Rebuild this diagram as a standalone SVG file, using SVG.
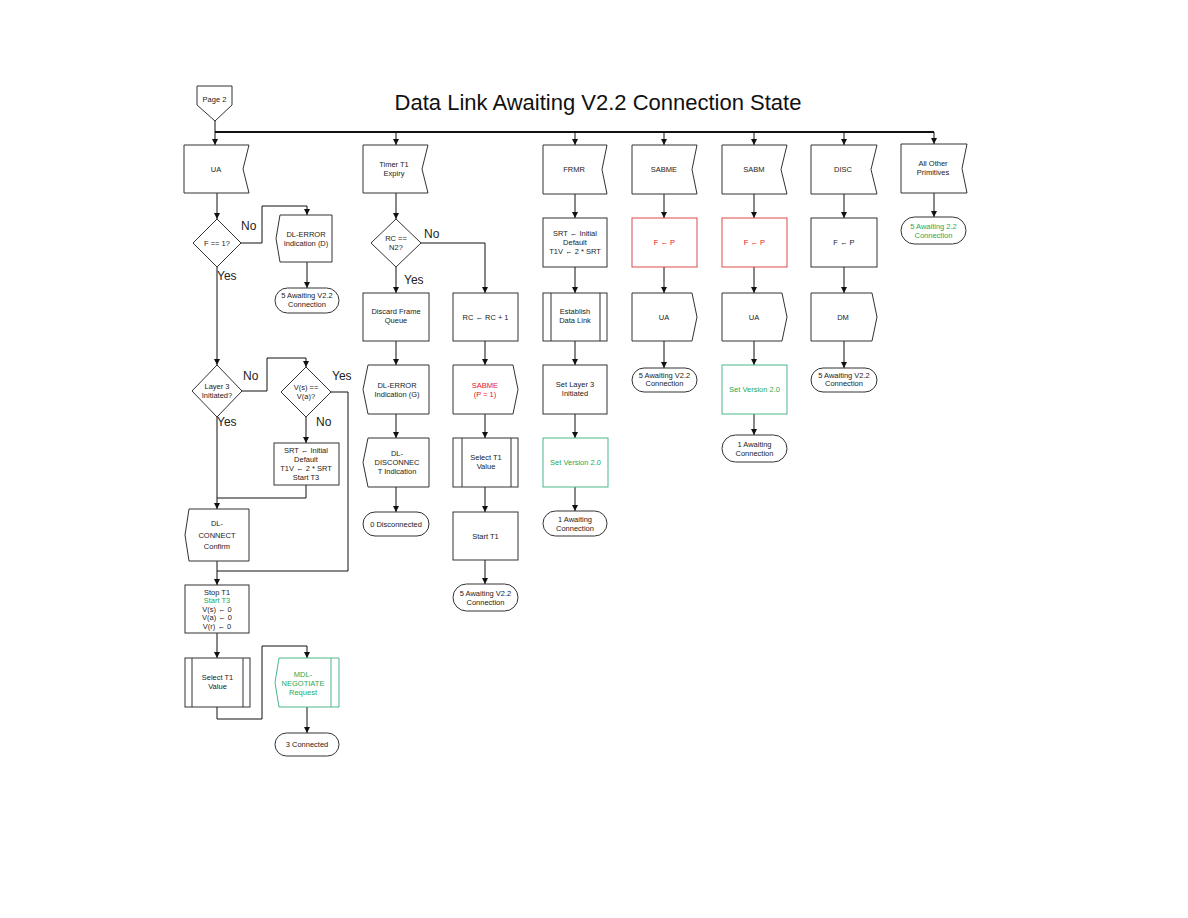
<svg xmlns="http://www.w3.org/2000/svg" width="1188" height="918" viewBox="0 0 1188 918">
<style>
.s{fill:#fff;stroke:#333;stroke-width:1}
.r{fill:#fff;stroke:#e04a4a;stroke-width:1}
.g{fill:#fff;stroke:#4cb886;stroke-width:1}
.c{fill:none;stroke:#111;stroke-width:1}
.bus{fill:none;stroke:#111;stroke-width:1.8}
text{font-family:"Liberation Sans",Arial,sans-serif}
.t{font-size:7.5px;text-anchor:middle;fill:#222}
.tr{font-size:7.5px;text-anchor:middle;fill:#e8141c}
.tg{font-size:7.5px;text-anchor:middle;fill:#1fa855}
.l{font-size:12px;fill:#222}
.title{font-size:22px;text-anchor:middle;fill:#111}
</style>
<defs>
<marker id="a" markerWidth="6" markerHeight="6" refX="6" refY="3" orient="auto" markerUnits="userSpaceOnUse">
<path d="M0,0 L6,3 L0,6 Z" fill="#111"/>
</marker>
</defs>
<rect width="1188" height="918" fill="#fff"/>
<text class="title" x="598" y="110">Data Link Awaiting V2.2 Connection State</text>

<g id="connectors">
<path class="bus" d="M215,132 H934"/>
<path class="c" d="M215,121 V145" marker-end="url(#a)"/>
<path class="c" d="M217,193 V219" marker-end="url(#a)"/>
<path class="c" d="M241,243 H262 V206 H307 V215" marker-end="url(#a)"/>
<path class="c" d="M307,262 V288" marker-end="url(#a)"/>
<path class="c" d="M217,267 V365" marker-end="url(#a)"/>
<path class="c" d="M242,391 H267 V358 H306 V367" marker-end="url(#a)"/>
<path class="c" d="M331,392 H348 V571 H217"/>
<path class="c" d="M306,417 V443" marker-end="url(#a)"/>
<path class="c" d="M306,485 V498 H217"/>
<path class="c" d="M217,417 V509" marker-end="url(#a)"/>
<path class="c" d="M217,561 V585" marker-end="url(#a)"/>
<path class="c" d="M217,633 V658" marker-end="url(#a)"/>
<path class="c" d="M217,707 V719 H262 V646 H307 V658" marker-end="url(#a)"/>
<path class="c" d="M307,707 V733" marker-end="url(#a)"/>

<path class="c" d="M396,132 V145" marker-end="url(#a)"/>
<path class="c" d="M396,193 V219" marker-end="url(#a)"/>
<path class="c" d="M421,243 H485 V293" marker-end="url(#a)"/>
<path class="c" d="M396,267 V293" marker-end="url(#a)"/>
<path class="c" d="M396,341 V365" marker-end="url(#a)"/>
<path class="c" d="M485,341 V365" marker-end="url(#a)"/>
<path class="c" d="M396,414 V438" marker-end="url(#a)"/>
<path class="c" d="M485,414 V438" marker-end="url(#a)"/>
<path class="c" d="M396,487 V512" marker-end="url(#a)"/>
<path class="c" d="M485,487 V512" marker-end="url(#a)"/>
<path class="c" d="M485,560 V584" marker-end="url(#a)"/>

<path class="c" d="M575,132 V145" marker-end="url(#a)"/>
<path class="c" d="M575,194 V218" marker-end="url(#a)"/>
<path class="c" d="M575,267 V293" marker-end="url(#a)"/>
<path class="c" d="M575,341 V365" marker-end="url(#a)"/>
<path class="c" d="M575,414 V438" marker-end="url(#a)"/>
<path class="c" d="M575,487 V511" marker-end="url(#a)"/>

<path class="c" d="M664,132 V145" marker-end="url(#a)"/>
<path class="c" d="M664,194 V218" marker-end="url(#a)"/>
<path class="c" d="M664,267 V293" marker-end="url(#a)"/>
<path class="c" d="M664,341 V368" marker-end="url(#a)"/>

<path class="c" d="M754,132 V145" marker-end="url(#a)"/>
<path class="c" d="M754,194 V218" marker-end="url(#a)"/>
<path class="c" d="M754,267 V293" marker-end="url(#a)"/>
<path class="c" d="M754,341 V365" marker-end="url(#a)"/>
<path class="c" d="M754,414 V435" marker-end="url(#a)"/>

<path class="c" d="M844,132 V145" marker-end="url(#a)"/>
<path class="c" d="M844,194 V218" marker-end="url(#a)"/>
<path class="c" d="M844,267 V293" marker-end="url(#a)"/>
<path class="c" d="M844,341 V368" marker-end="url(#a)"/>

<path class="c" d="M934,132 V144" marker-end="url(#a)"/>
<path class="c" d="M934,193 V217" marker-end="url(#a)"/>

<text class="l" x="241" y="230">No</text>
<text class="l" x="217" y="280">Yes</text>
<text class="l" x="243" y="380">No</text>
<text class="l" x="217" y="426">Yes</text>
<text class="l" x="332" y="380">Yes</text>
<text class="l" x="316" y="426">No</text>
<text class="l" x="424" y="238">No</text>
<text class="l" x="404" y="284">Yes</text>
</g>

<g id="page2"><path class="s" d="M197,86 H232 V105 L215,121 L197,105 Z"/><text class="t" x="214.5" y="102">Page 2</text></g>

<g id="ua1"><path class="s" d="M184,145 H249 L243,169 L249,193 H184 Z"/><text class="t" x="216" y="171.7">UA</text></g>
<g id="f1"><path class="s" d="M217,219 L241,243 L217,267 L193,243 Z"/><text class="t" x="217" y="245.7">F == 1?</text></g>
<g id="dlerrd"><path class="s" d="M280,215 H332 V262 H280 L276,238.5 Z"/><text class="t" x="306" y="236.7">DL-ERROR</text><text class="t" x="306" y="245.7">Indication (D)</text></g>
<g id="aw1"><rect class="s" x="275" y="288" width="64" height="25" rx="12.5"/><text class="t" x="307" y="298">5 Awaiting V2.2</text><text class="t" x="307" y="307">Connection</text></g>
<g id="l3"><path class="s" d="M217,365 L242,391 L217,417 L192,391 Z"/><text class="t" x="217" y="389">Layer 3</text><text class="t" x="217" y="398">Initiated?</text></g>
<g id="vs"><path class="s" d="M306,367 L331,392 L306,417 L281,392 Z"/><text class="t" x="306" y="390">V(s) ==</text><text class="t" x="306" y="399">V(a)?</text></g>
<g id="srt1"><rect class="s" x="274" y="443" width="65" height="42"/><text class="t" x="306" y="452.7">SRT ← Initial</text><text class="t" x="306" y="461.7">Default</text><text class="t" x="306" y="470.7">T1V ← 2 * SRT</text><text class="t" x="306" y="479.7">Start T3</text></g>
<g id="dlconn"><path class="s" d="M189,509 H249 V561 H189 L185,535 Z"/><text class="t" x="217" y="526">DL-</text><text class="t" x="217" y="537.5">CONNECT</text><text class="t" x="217" y="549">Confirm</text></g>
<g id="stop"><rect class="s" x="185" y="585" width="64" height="48"/><text class="t" x="217" y="594.7">Stop T1</text><text class="tg" x="217" y="603.2">Start T3</text><text class="t" x="217" y="611.7">V(s) ← 0</text><text class="t" x="217" y="620.2">V(a) ← 0</text><text class="t" x="217" y="628.7">V(r) ← 0</text></g>
<g id="sel1"><rect class="s" x="185" y="658" width="65" height="49"/><path class="s" d="M192,658 V707 M243,658 V707"/><text class="t" x="217.5" y="680">Select T1</text><text class="t" x="217.5" y="689">Value</text></g>
<g id="mdl"><path class="g" d="M279,658 H339 V707 H279 L275,682.5 Z M331,658 V707"/><text class="tg" x="303" y="676.5">MDL-</text><text class="tg" x="303" y="685.5">NEGOTIATE</text><text class="tg" x="303" y="694.5">Request</text></g>
<g id="conn3"><rect class="s" x="275" y="733" width="64" height="23" rx="11.5"/><text class="t" x="307" y="747.2">3 Connected</text></g>

<g id="t1exp"><path class="s" d="M363,145 H428 L422,169 L428,193 H363 Z"/><text class="t" x="394" y="167">Timer T1</text><text class="t" x="394" y="176">Expiry</text></g>
<g id="rc"><path class="s" d="M396,219 L421,243 L396,267 L371,243 Z"/><text class="t" x="396" y="241">RC ==</text><text class="t" x="396" y="250">N2?</text></g>
<g id="discard"><rect class="s" x="363" y="293" width="66" height="48"/><text class="t" x="396" y="314">Discard Frame</text><text class="t" x="396" y="323">Queue</text></g>
<g id="rcinc"><rect class="s" x="453" y="293" width="65" height="48"/><text class="t" x="485.5" y="319.7">RC ← RC + 1</text></g>
<g id="dlerrg"><path class="s" d="M368,365 H429 V414 H368 L363,389.5 Z"/><text class="t" x="397" y="387.5">DL-ERROR</text><text class="t" x="397" y="396.5">Indication (G)</text></g>
<g id="sabmep"><path class="s" d="M453,365 H513 L518,389.5 L513,414 H453 Z"/><text class="tr" x="485" y="387.5">SABME</text><text class="tr" x="485" y="396.5">(P = 1)</text></g>
<g id="dldisc"><path class="s" d="M368,438 H429 V487 H368 L363,462.5 Z"/><text class="t" x="397" y="455.5">DL-</text><text class="t" x="397" y="464.5">DISCONNEC</text><text class="t" x="397" y="473.5">T Indication</text></g>
<g id="sel2"><rect class="s" x="453" y="438" width="65" height="49"/><path class="s" d="M462,438 V487 M511,438 V487"/><text class="t" x="486" y="460">Select T1</text><text class="t" x="486" y="469">Value</text></g>
<g id="disc0"><rect class="s" x="363" y="512" width="66" height="24" rx="12"/><text class="t" x="396" y="526.7">0 Disconnected</text></g>
<g id="startt1"><rect class="s" x="453" y="512" width="65" height="48"/><text class="t" x="485.5" y="538.7">Start T1</text></g>
<g id="aw2"><rect class="s" x="453" y="584" width="65" height="27" rx="13.5"/><text class="t" x="485.5" y="595.5">5 Awaiting V2.2</text><text class="t" x="485.5" y="604.5">Connection</text></g>

<g id="frmr"><path class="s" d="M543,145 H607 L602,169.5 L607,194 H543 Z"/><text class="t" x="574" y="172.2">FRMR</text></g>
<g id="srt2"><rect class="s" x="543" y="218" width="64" height="49"/><text class="t" x="575" y="236">SRT ← Initial</text><text class="t" x="575" y="245">Default</text><text class="t" x="575" y="254">T1V ← 2 * SRT</text></g>
<g id="estab"><rect class="s" x="543" y="293" width="64" height="48"/><path class="s" d="M551,293 V341 M600,293 V341"/><text class="t" x="575" y="314">Establish</text><text class="t" x="575" y="323">Data Link</text></g>
<g id="setl3"><rect class="s" x="543" y="365" width="64" height="49"/><text class="t" x="575" y="387">Set Layer 3</text><text class="t" x="575" y="396">Initiated</text></g>
<g id="setv1"><rect class="g" x="543" y="438" width="65" height="49"/><text class="tg" x="575.5" y="465.2">Set Version 2.0</text></g>
<g id="aw3"><rect class="s" x="543" y="511" width="64" height="25" rx="12.5"/><text class="t" x="575" y="521.5">1 Awaiting</text><text class="t" x="575" y="530.5">Connection</text></g>

<g id="sabme"><path class="s" d="M632,145 H697 L692,169.5 L697,194 H632 Z"/><text class="t" x="664" y="172.2">SABME</text></g>
<g id="fp1"><rect class="r" x="632" y="218" width="65" height="49"/><text class="tr" x="664.5" y="245.2">F ← P</text></g>
<g id="ua2"><path class="s" d="M632,293 H692 L697,317 L692,341 H632 Z"/><text class="t" x="664" y="319.7">UA</text></g>
<g id="aw4"><rect class="s" x="632" y="368" width="65" height="24" rx="12"/><text class="t" x="664.5" y="377.8">5 Awaiting V2.2</text><text class="t" x="664.5" y="386.3">Connection</text></g>

<g id="sabm"><path class="s" d="M722,145 H787 L781,169.5 L787,194 H722 Z"/><text class="t" x="754" y="172.2">SABM</text></g>
<g id="fp2"><rect class="r" x="722" y="218" width="65" height="49"/><text class="tr" x="754.5" y="245.2">F ← P</text></g>
<g id="ua3"><path class="s" d="M722,293 H782 L787,317 L782,341 H722 Z"/><text class="t" x="754" y="319.7">UA</text></g>
<g id="setv2"><rect class="g" x="722" y="365" width="65" height="49"/><text class="tg" x="754.5" y="392.2">Set Version 2.0</text></g>
<g id="aw5"><rect class="s" x="722" y="435" width="65" height="27" rx="13.5"/><text class="t" x="754.5" y="446.5">1 Awaiting</text><text class="t" x="754.5" y="455.5">Connection</text></g>

<g id="disc"><path class="s" d="M811,145 H877 L871,169.5 L877,194 H811 Z"/><text class="t" x="843" y="172.2">DISC</text></g>
<g id="fp3"><rect class="s" x="811" y="218" width="66" height="49"/><text class="t" x="844" y="245.2">F ← P</text></g>
<g id="dm"><path class="s" d="M811,293 H872 L877,317 L872,341 H811 Z"/><text class="t" x="843" y="319.7">DM</text></g>
<g id="aw6"><rect class="s" x="811" y="368" width="66" height="24" rx="12"/><text class="t" x="844" y="377.8">5 Awaiting V2.2</text><text class="t" x="844" y="386.3">Connection</text></g>

<g id="other"><path class="s" d="M901,144 H967 L962,168.5 L967,193 H901 Z"/><text class="t" x="933" y="166">All Other</text><text class="t" x="933" y="175">Primitives</text></g>
<g id="aw7"><rect class="s" x="901" y="217" width="65" height="27" rx="13.5"/><text class="tg" x="933.5" y="228.5">5 Awaiting 2.2</text><text class="tg" x="933.5" y="237.5">Connection</text></g>
</svg>
